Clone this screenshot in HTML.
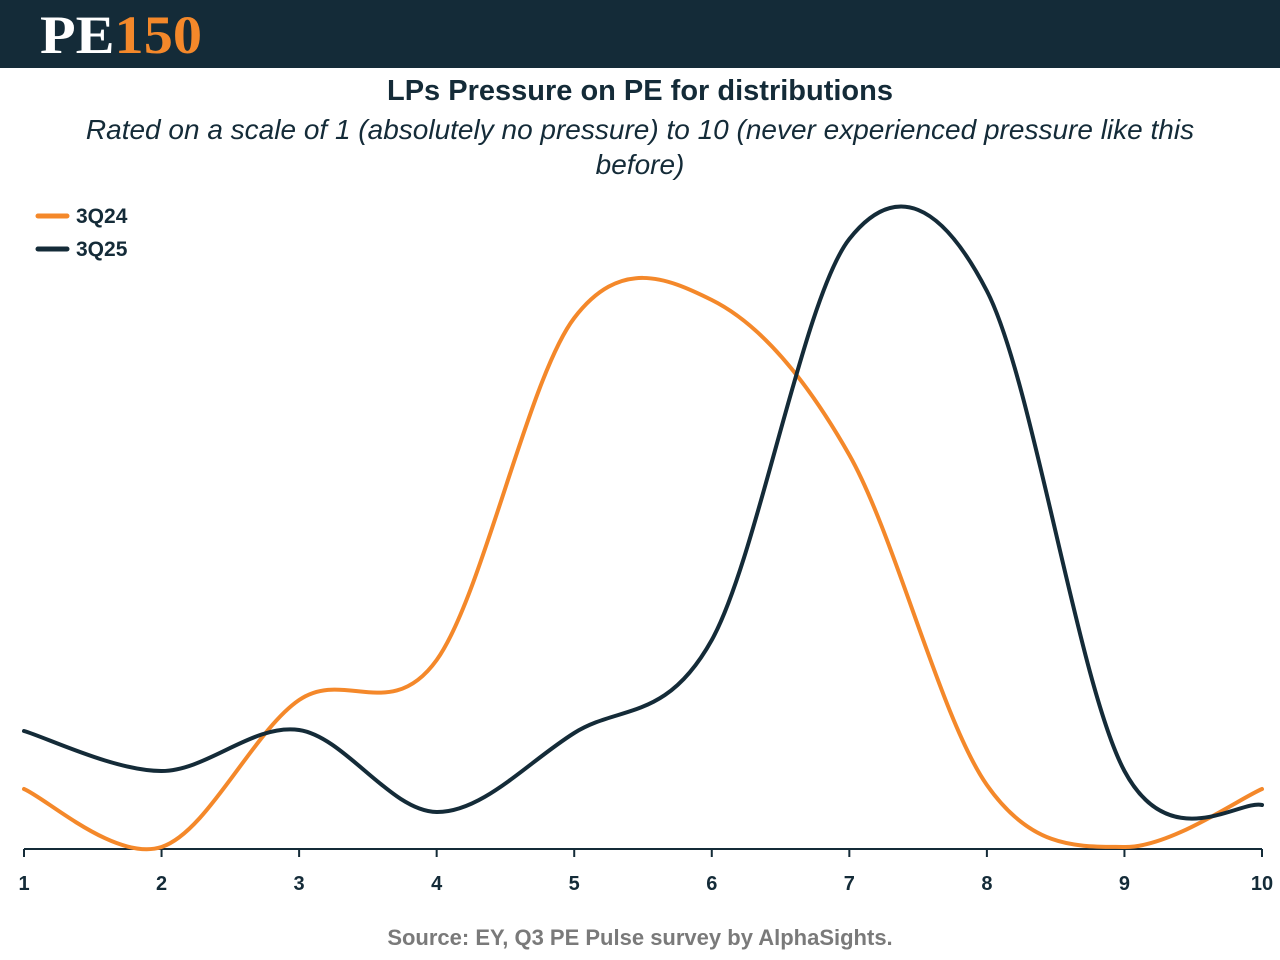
<!DOCTYPE html>
<html><head><meta charset="utf-8"><style>
body{margin:0;width:1280px;height:960px;background:#fff;font-family:"Liberation Sans",sans-serif;overflow:hidden;position:relative;color:#142b38}
#hdr{position:absolute;left:0;top:0;width:1280px;height:68px;background:#142b38}
#logo{position:absolute;left:40px;top:8px;font-family:"Liberation Serif",serif;font-weight:bold;font-size:54px;line-height:54px;letter-spacing:0px;transform:scaleX(1.08);transform-origin:left}
#title{position:absolute;top:75px;width:1280px;text-align:center;font-weight:bold;font-size:29px}
#sub{position:absolute;top:112px;left:55px;width:1170px;text-align:center;font-style:italic;font-size:28px;line-height:35px}
#src{position:absolute;top:925px;width:1280px;text-align:center;font-weight:bold;font-size:22px;color:#7a7a7a}
svg{position:absolute;left:0;top:0}
</style></head><body>
<div id="hdr"><div id="logo"><span style="color:#fff">PE</span><span style="color:#f4882a">150</span></div></div>
<div id="title">LPs Pressure on PE for distributions</div>
<div id="sub">Rated on a scale of 1 (absolutely no pressure) to 10 (never experienced pressure like this before)</div>
<div id="src">Source: EY, Q3 PE Pulse survey by AlphaSights.</div>
<svg id="chart" width="1280" height="960"></svg>
<script>
const categories=[1,2,3,4,5,6,7,8,9,10];
const series3Q24=[3.0,0.1,7.45,9.45,26.55,27.45,19.7,3.2,0.1,3.0];
const series3Q25=[5.9,3.9,5.95,1.85,5.8,10.45,30.5,27.9,3.9,2.2];
const seriesNames=["3Q24","3Q25"];
const NS="http://www.w3.org/2000/svg";
const svg=document.getElementById('chart');
const x0=24,x1=1262,base=849,k=20;
function xs(c){return x0+(c-1)*(x1-x0)/9;}
function ys(v){return base-v*k;}
function mk(t,a){const e=document.createElementNS(NS,t);for(const n in a)e.setAttribute(n,a[n]);svg.appendChild(e);return e;}
const axis=mk('line',{x1:x0,x2:x1,y1:base,y2:base,stroke:'#142b38','stroke-width':2});


categories.forEach(c=>{
  const t=mk('line',{x1:xs(c),x2:xs(c),y1:base,y2:base+8,stroke:'#142b38','stroke-width':2});
  
  
  const l=mk('text',{x:xs(c),y:890,'text-anchor':'middle','font-size':20,'font-weight':'bold',fill:'#142b38','font-family':'Liberation Sans, sans-serif'});
  l.textContent=c;
  
  
});
function path(vals){
  const p=vals.map((v,i)=>[xs(categories[i]),ys(v)]);
  let d='M'+p[0][0]+','+p[0][1];
  for(let i=0;i<p.length-1;i++){
    const a=p[Math.max(0,i-1)],b=p[i],c=p[i+1],e=p[Math.min(p.length-1,i+2)];
    const c1=[b[0]+(c[0]-a[0])/6,b[1]+(c[1]-a[1])/6];
    const c2=[c[0]-(e[0]-b[0])/6,c[1]-(e[1]-b[1])/6];
    d+=' C'+c1+' '+c2+' '+c;
  }
  return d;
}
const colors=['#f4882a','#142b38'];
[series3Q24,series3Q25].forEach((s,i)=>{
  const l=mk('path',{d:path(s),fill:'none',stroke:colors[i],'stroke-width':4,'stroke-linecap':'round'});
  
  
  const ll=mk('line',{x1:38,x2:67,y1:216+i*33,y2:216+i*33,stroke:colors[i],'stroke-width':5,'stroke-linecap':'round'});
  
  
  const lt=mk('text',{x:76,y:223+i*33,'font-size':21,'font-weight':'bold',fill:'#142b38','font-family':'Liberation Sans, sans-serif'});
  lt.textContent=seriesNames[i];
  
  
});
</script>
</body></html>
